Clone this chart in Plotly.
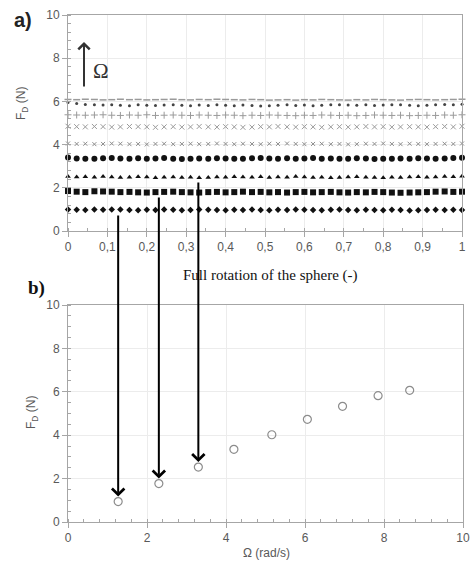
import plotly.graph_objects as go

# ---------------- data ----------------
rotation = [0.000,0.022,0.044,0.067,0.089,0.111,0.133,0.156,0.178,0.200,0.222,0.244,0.267,0.289,0.311,0.333,
            0.356,0.378,0.400,0.422,0.444,0.467,0.489,0.511,0.533,0.556,0.578,0.600,0.622,0.644,0.667,0.689,
            0.711,0.733,0.756,0.778,0.800,0.822,0.844,0.867,0.889,0.911,0.933,0.956,0.978,1.000]

fd_diamond = [1.00,0.98,0.97,0.99,0.98,1.00,0.99,0.97,0.96,0.98,0.97,0.99,0.98,0.96,0.97,0.99,0.98,0.97,0.96,0.98,0.97,0.99,0.97,0.96,
              0.98,0.97,0.99,0.98,0.97,0.96,0.98,0.99,0.97,0.96,0.98,0.97,0.96,0.98,0.97,0.95,0.96,0.97,0.98,0.97,0.98,0.97]
fd_square = [1.85,1.82,1.80,1.84,1.83,1.82,1.80,1.81,1.79,1.78,1.80,1.81,1.82,1.80,1.79,1.78,1.80,1.81,1.79,1.80,1.82,1.80,1.81,1.79,
             1.80,1.78,1.80,1.81,1.79,1.80,1.81,1.79,1.78,1.80,1.79,1.81,1.80,1.78,1.77,1.78,1.79,1.80,1.82,1.83,1.81,1.82]
fd_triangle = [2.52,2.50,2.51,2.49,2.52,2.50,2.48,2.49,2.51,2.50,2.47,2.49,2.50,2.48,2.49,2.47,2.48,2.50,2.49,2.51,2.50,2.49,2.51,2.48,
               2.50,2.49,2.52,2.50,2.48,2.49,2.47,2.48,2.50,2.51,2.49,2.48,2.47,2.49,2.48,2.50,2.51,2.49,2.50,2.52,2.51,2.53]
fd_circle = [3.40,3.36,3.35,3.34,3.37,3.38,3.36,3.35,3.37,3.34,3.36,3.38,3.35,3.33,3.34,3.36,3.35,3.37,3.36,3.34,3.35,3.37,3.38,3.36,
             3.35,3.37,3.34,3.36,3.38,3.35,3.36,3.34,3.35,3.37,3.36,3.33,3.35,3.34,3.36,3.35,3.37,3.36,3.34,3.36,3.38,3.39]
fd_star = [4.05,4.03,4.04,4.02,4.03,4.05,4.04,4.02,4.03,4.01,4.03,4.04,4.02,4.03,4.04,4.02,4.03,4.05,4.03,4.02,4.04,4.03,4.02,4.04,
           4.03,4.05,4.03,4.02,4.03,4.04,4.02,4.03,4.01,4.02,4.04,4.03,4.05,4.03,4.02,4.04,4.03,4.02,4.03,4.04,4.03,4.05]
fd_cross = [4.85,4.83,4.82,4.84,4.83,4.81,4.82,4.84,4.83,4.82,4.80,4.82,4.83,4.81,4.82,4.84,4.82,4.81,4.83,4.82,4.80,4.81,4.83,4.82,
            4.84,4.82,4.81,4.83,4.82,4.80,4.82,4.83,4.81,4.82,4.84,4.82,4.83,4.81,4.82,4.83,4.82,4.81,4.83,4.84,4.82,4.85]
fd_plus = [5.38,5.37,5.36,5.37,5.38,5.36,5.35,5.37,5.36,5.38,5.35,5.36,5.37,5.36,5.35,5.37,5.36,5.35,5.37,5.36,5.34,5.36,5.35,5.37,
           5.36,5.35,5.34,5.36,5.35,5.37,5.36,5.35,5.36,5.34,5.35,5.37,5.36,5.35,5.36,5.34,5.35,5.36,5.35,5.37,5.36,5.38]
fd_dot = [5.95,5.90,5.86,5.84,5.83,5.85,5.82,5.80,5.84,5.82,5.81,5.83,5.85,5.82,5.80,5.83,5.81,5.84,5.82,5.80,5.83,5.81,5.79,5.80,
          5.82,5.84,5.81,5.83,5.80,5.82,5.84,5.85,5.83,5.82,5.84,5.81,5.83,5.85,5.84,5.82,5.80,5.82,5.84,5.86,5.84,5.87]
fd_dash = [6.09,6.08,6.10,6.09,6.07,6.08,6.10,6.08,6.09,6.07,6.08,6.09,6.10,6.08,6.07,6.09,6.08,6.10,6.09,6.08,6.07,6.09,6.08,6.06,
           6.07,6.08,6.06,6.08,6.07,6.09,6.08,6.07,6.06,6.08,6.07,6.09,6.08,6.07,6.06,6.08,6.09,6.08,6.07,6.08,6.09,6.10]

omega = [1.27, 2.30, 3.30, 4.20, 5.16, 6.06, 6.95, 7.85, 8.65]
fd_mean = [0.94, 1.77, 2.53, 3.35, 4.02, 4.73, 5.33, 5.82, 6.07]

# which top-series levels are linked by arrows to the bottom points
arrow_levels = [0.97, 1.80, 2.50]

# ---------------- layout geometry (pixels) ----------------
W, H = 471, 563
top_x = (68, 462); top_y = (15, 231)      # px (left,right) / (top,bottom)
bot_x = (68, 463); bot_y = (305, 522)

def pdom_x(a):
    return [a[0] / W, a[1] / W]

def pdom_y(a):
    return [1 - a[1] / H, 1 - a[0] / H]

AX = '#a6a6a6'
GRID = '#ececec'
TXT = '#595959'
FONT = 'Liberation Sans, Arial, sans-serif'
SERIF = 'Liberation Serif, Times New Roman, serif'

series = [
    (fd_diamond, dict(symbol='diamond', size=5, color='#111111')),
    (fd_square, dict(symbol='square', size=6, color='#111111')),
    (fd_triangle, dict(symbol='triangle-up', size=5, color='#111111')),
    (fd_circle, dict(symbol='circle', size=6, color='#111111')),
    (fd_star, dict(symbol='x-thin', size=4, color='#8c8c8c', line=dict(width=1, color='#8c8c8c'))),
    (fd_cross, dict(symbol='x-thin', size=5, color='#9a9a9a', line=dict(width=1, color='#9a9a9a'))),
    (fd_plus, dict(symbol='cross-thin', size=5, color='#9a9a9a', line=dict(width=1, color='#9a9a9a'))),
    (fd_dot, dict(symbol='circle', size=3, color='#444444')),
    (fd_dash, dict(symbol='line-ew', size=5, color='#9a9a9a', line=dict(width=1.5, color='#9a9a9a'))),
]

fig = go.Figure()
for ys, mk in series:
    fig.add_trace(go.Scatter(x=rotation, y=ys, mode='markers', marker=mk,
                             xaxis='x', yaxis='y', cliponaxis=False, showlegend=False))

fig.add_trace(go.Scatter(x=omega, y=fd_mean, mode='markers',
                         marker=dict(symbol='circle-open', size=8, color='#8c8c8c', line=dict(width=1.2, color='#8c8c8c')),
                         xaxis='x2', yaxis='y2', showlegend=False))

axcommon = dict(showline=True, linecolor=AX, linewidth=1, mirror=True, ticks='outside', ticklen=5,
                tickcolor=AX, showgrid=True, gridcolor=GRID, gridwidth=1, zeroline=False, automargin=False,
                tickfont=dict(family=FONT, size=12, color=TXT))

fig.update_layout(
    template='none',
    width=W, height=H, margin=dict(l=0, r=0, t=0, b=0, autoexpand=False),
    paper_bgcolor='white', plot_bgcolor='white', separators=',.',
    xaxis=dict(domain=pdom_x(top_x), range=[0, 1], dtick=0.1, anchor='y',
               minor=dict(dtick=0.05, ticks='inside', ticklen=3, tickcolor=AX, showgrid=False), **axcommon),
    yaxis=dict(domain=pdom_y(top_y), range=[0, 10], dtick=2, anchor='x',
               minor=dict(dtick=0.4, ticks='inside', ticklen=3, tickcolor=AX, showgrid=False), **axcommon),
    xaxis2=dict(domain=pdom_x(bot_x), range=[0, 10], dtick=2, anchor='y2',
                minor=dict(dtick=0.4, ticks='inside', ticklen=3, tickcolor=AX, showgrid=False), **axcommon),
    yaxis2=dict(domain=pdom_y(bot_y), range=[0, 10], dtick=2, anchor='x2',
                minor=dict(dtick=0.5, ticks='inside', ticklen=3, tickcolor=AX, showgrid=False), **axcommon),
)

def top_py(v):
    return top_y[1] - (top_y[1] - top_y[0]) * v / 10.0

def bot_py(v):
    return bot_y[1] - (bot_y[1] - bot_y[0]) * v / 10.0

ann = []
# linking arrows
for i, lvl in enumerate(arrow_levels):
    tip = bot_py(fd_mean[i]) - 5
    tail = top_py(lvl) + 4
    ann.append(dict(x=omega[i], xref='x2', y=1 - tip / H, yref='paper', ax=0, ay=tail - tip,
                    axref='pixel', ayref='pixel', text='', showarrow=True,
                    arrowhead=4, arrowsize=1.2, arrowwidth=2, arrowcolor='#000000'))

# Omega arrow in panel a
ann.append(dict(x=84 / W, xref='paper', y=1 - 42 / H, yref='paper', ax=0, ay=46,
                text='', showarrow=True, arrowhead=4, arrowsize=1.1, arrowwidth=2, arrowcolor='#333333'))


def label(x, y, text, size, family, color, angle=0):
    ann.append(dict(x=x / W, y=1 - y / H, xref='paper', yref='paper', text=text, textangle=angle,
                    xanchor='center', yanchor='middle', showarrow=False,
                    font=dict(family=family, size=size, color=color)))


label(101, 71, 'Ω', 21, SERIF, '#333333')
label(23, 20, '<b>a)</b>', 20, FONT, '#222222')
label(36, 288, '<b>b)</b>', 19, SERIF, '#111111')
label(22, 104, 'F<sub>D</sub> (N)', 12, FONT, TXT, -90)
label(32, 413, 'F<sub>D</sub> (N)', 12, FONT, TXT, -90)
label(270, 275, 'Full rotation of the sphere (-)', 15, SERIF, '#111111')
label(266, 553, 'Ω (rad/s)', 12, FONT, TXT)

fig.update_layout(annotations=ann)
fig.write_html('out.html', config={'displayModeBar': False, 'staticPlot': True},
               post_script="document.body.style.margin='0';document.body.style.overflow='hidden';")
